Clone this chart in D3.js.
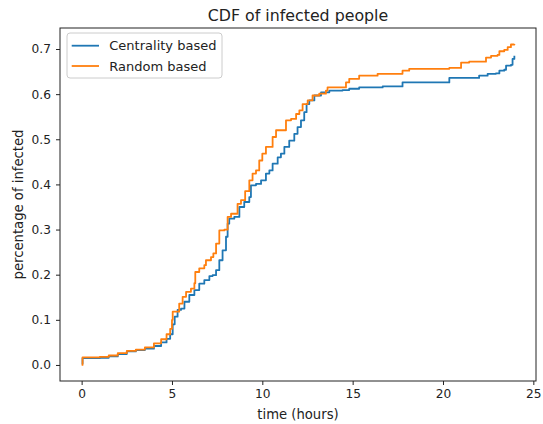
<!DOCTYPE html>
<html>
<head>
<meta charset="utf-8">
<script src="https://cdn.jsdelivr.net/npm/d3@7"></script>
<style>
  body { margin: 0; background: #fff; }
</style>
</head>
<body>
<svg width="543" height="424"></svg>
<script>
// values: [hours, share infected]
const centrality = [
  [0, 0.003], [0.05, 0.015], [1, 0.016], [1.5, 0.019], [2, 0.024], [2.5, 0.03],
  [3, 0.033], [3.5, 0.036], [4, 0.042], [4.4, 0.05], [4.7, 0.058], [4.9, 0.068],
  [5.04, 0.09], [5.15, 0.107], [5.31, 0.122], [5.5, 0.125], [5.69, 0.14],
  [5.96, 0.155], [6.24, 0.166], [6.51, 0.18], [6.79, 0.188], [7.07, 0.197],
  [7.25, 0.199], [7.44, 0.21], [7.62, 0.232], [7.8, 0.254], [7.99, 0.284],
  [8.08, 0.313], [8.17, 0.324], [8.45, 0.328], [8.73, 0.35], [9.0, 0.361],
  [9.28, 0.372], [9.37, 0.398], [9.65, 0.401], [9.93, 0.409], [10.2, 0.424],
  [10.39, 0.431], [10.57, 0.446], [10.85, 0.46], [11.03, 0.468], [11.22, 0.483],
  [11.49, 0.497], [11.77, 0.512], [11.95, 0.527], [12.14, 0.542], [12.32, 0.56],
  [12.45, 0.578], [12.6, 0.586], [12.88, 0.597], [13.25, 0.604], [13.71, 0.608],
  [14.44, 0.609], [14.81, 0.612], [15.36, 0.615], [16.66, 0.617], [17.76, 0.626],
  [20.35, 0.636], [22.0, 0.641], [22.47, 0.645], [22.93, 0.646], [23.12, 0.652],
  [23.39, 0.654], [23.49, 0.663], [23.76, 0.665], [23.85, 0.678], [23.95, 0.685]
];

const random = [
  [0, 0.0], [0.05, 0.017], [1, 0.018], [1.5, 0.021], [2, 0.026], [2.5, 0.031],
  [3, 0.034], [3.5, 0.039], [4, 0.048], [4.4, 0.057], [4.7, 0.068], [4.9, 0.08],
  [5.0, 0.1], [5.04, 0.118], [5.4, 0.136], [5.59, 0.151], [5.78, 0.162],
  [6.05, 0.169], [6.24, 0.181], [6.29, 0.206], [6.51, 0.214], [6.79, 0.221],
  [6.88, 0.232], [7.16, 0.239], [7.29, 0.247], [7.44, 0.269], [7.62, 0.298],
  [7.9, 0.3], [8.08, 0.328], [8.27, 0.335], [8.63, 0.357], [8.82, 0.365],
  [9.05, 0.385], [9.28, 0.409], [9.46, 0.424], [9.65, 0.431], [9.83, 0.453],
  [10.0, 0.468], [10.2, 0.483], [10.57, 0.505], [10.76, 0.52], [11.31, 0.542],
  [11.59, 0.545], [11.87, 0.556], [12.05, 0.564], [12.23, 0.578], [12.51, 0.586],
  [12.78, 0.597], [13.15, 0.601], [13.52, 0.608], [13.61, 0.615], [14.63, 0.626],
  [14.81, 0.634], [15.36, 0.641], [16.38, 0.645], [17.76, 0.652], [18.13, 0.656],
  [20.35, 0.658], [21.0, 0.67], [21.45, 0.672], [22.38, 0.681], [22.66, 0.685],
  [23.02, 0.687], [23.12, 0.695], [23.39, 0.698], [23.58, 0.704], [23.76, 0.71],
  [23.95, 0.711]
];

const seriesNames = ['Centrality based', 'Random based'];
const seriesColors = ['#1f77b4', '#ff7f0e'];
const xTicks = [0, 5, 10, 15, 20, 25];
const yTicks = [0.0, 0.1, 0.2, 0.3, 0.4, 0.5, 0.6, 0.7];

const FONT = '"DejaVu Sans", sans-serif';
const margin = {top: 28, right: 7, bottom: 43, left: 60};
const width = 543;
const height = 424;

const svg = d3.select('svg');

// matplotlib style 5% padding around the data
const all = centrality.concat(random);
const pad = (ext) => {
  const d = (ext[1] - ext[0]) * 0.05;
  return [ext[0] - d, ext[1] + d];
};

const x = d3.scaleLinear()
  .domain(pad(d3.extent(all, d => d[0])))
  .range([margin.left, width - margin.right]);

const y = d3.scaleLinear()
  .domain(pad(d3.extent(all, d => d[1])))
  .range([height - margin.bottom, margin.top]);

const line = d3.line()
  .x(d => x(d[0]))
  .y(d => y(d[1]))
  .curve(d3.curveStepAfter);

const plot = svg.append('g');

[centrality, random].forEach((data, i) => {
  plot.append('path')
    .datum(data)
    .attr('fill', 'none')
    .attr('stroke', seriesColors[i])
    .attr('stroke-width', 1.8)
    .attr('stroke-linejoin', 'round')
    .attr('d', line);
});

// axes
const xAxis = svg.append('g')
  .attr('transform', `translate(0,${height - margin.bottom})`)
  .call(d3.axisBottom(x).tickValues(xTicks).tickFormat(d3.format('d')).tickSize(4).tickPadding(4));

const yAxis = svg.append('g')
  .attr('transform', `translate(${margin.left},0)`)
  .call(d3.axisLeft(y).tickValues(yTicks).tickFormat(d3.format('.1f')).tickSize(4).tickPadding(5));

[xAxis, yAxis].forEach(a => {
  a.attr('font-family', FONT).attr('font-size', 12.2);
  a.select('.domain').remove();
  a.selectAll('text').attr('fill', '#222');
  a.selectAll('line').attr('stroke', '#222').attr('stroke-width', 1);
});

// frame
svg.append('rect')
  .attr('x', margin.left)
  .attr('y', margin.top)
  .attr('width', width - margin.left - margin.right)
  .attr('height', height - margin.top - margin.bottom)
  .attr('fill', 'none')
  .attr('stroke', '#222')
  .attr('stroke-width', 1);

// title and labels
svg.append('text')
  .attr('x', (margin.left + width - margin.right) / 2)
  .attr('y', 21)
  .attr('text-anchor', 'middle')
  .attr('font-family', FONT)
  .attr('font-size', 15.8)
  .attr('fill', '#222')
  .text('CDF of infected people');

svg.append('text')
  .attr('x', (margin.left + width - margin.right) / 2)
  .attr('y', 419)
  .attr('text-anchor', 'middle')
  .attr('font-family', FONT)
  .attr('font-size', 13.2)
  .attr('fill', '#222')
  .text('time (hours)');

svg.append('text')
  .attr('transform', `translate(23,${(margin.top + height - margin.bottom) / 2}) rotate(-90)`)
  .attr('text-anchor', 'middle')
  .attr('font-family', FONT)
  .attr('font-size', 13.2)
  .attr('fill', '#222')
  .text('percentage of infected');

// legend
const legend = svg.append('g').attr('transform', `translate(67,33)`);

legend.append('rect')
  .attr('width', 155)
  .attr('height', 45)
  .attr('rx', 3)
  .attr('fill', 'white')
  .attr('fill-opacity', 0.8)
  .attr('stroke', '#ccc')
  .attr('stroke-width', 1);

seriesNames.forEach((name, i) => {
  const row = legend.append('g').attr('transform', `translate(0,${12.7 + i * 20.3})`);
  row.append('line')
    .attr('x1', 4.7).attr('x2', 32)
    .attr('stroke', seriesColors[i])
    .attr('stroke-width', 1.8);
  row.append('text')
    .attr('x', 42.3)
    .attr('dy', '0.35em')
    .attr('font-family', FONT)
    .attr('font-size', 13)
    .attr('fill', '#222')
    .text(name);
});
</script>
</body>
</html>
